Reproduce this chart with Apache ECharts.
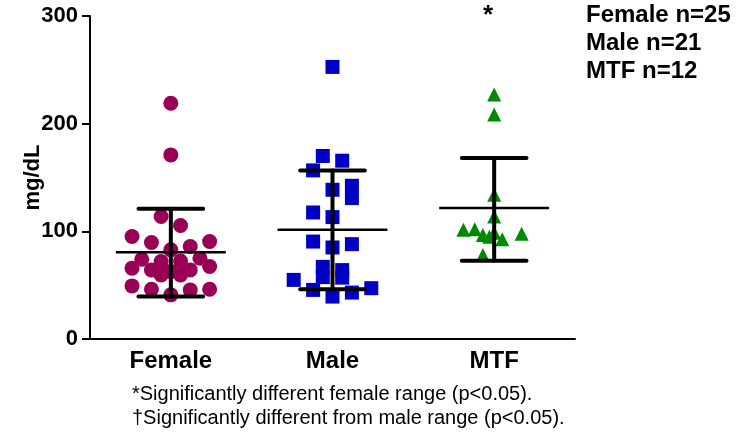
<!DOCTYPE html>
<html>
<head>
<meta charset="utf-8">
<script src="https://cdn.jsdelivr.net/npm/echarts@6/dist/echarts.min.js"></script>
<style>
  html, body { margin: 0; background: #fff; }
  #chart { width: 750px; height: 435px; }
</style>
</head>
<body>
<div id="chart"></div>
<script>
// groups on the x axis
const groups = ["Female", "Male", "MTF"];
const yTicks = [0, 100, 200, 300];

// individual values (mg/dL) and horizontal jitter inside each group
const femaleValues = [219, 171, 113.8, 105.4, 95.2, 89.6, 85.9, 90.5, 82.8, 74.1, 71.9, 72.5, 75,
  65.8, 64.2, 62.6, 64.2, 67.3, 59.5, 59.5, 49.3, 46.2, 41, 45.6, 46.2];
const femaleJitter = [0, 0, -0.06, 0.06, -0.24, -0.12, 0.12, 0.24, 0, -0.18, -0.06, 0.06, 0.18,
  -0.24, -0.12, 0, 0.12, 0.24, -0.06, 0.06, -0.24, -0.12, 0, 0.12, 0.24];

const maleValues = [252.7, 170, 165.6, 156.6, 138.6, 142.3, 130.9, 117.5, 113.2, 90.5, 85, 88.1,
  67, 57.5, 64, 57, 54.9, 45.6, 39.4, 43.1, 47.2];
const maleJitter = [0, -0.06, 0.06, -0.12, 0, 0.12, 0.12, -0.12, 0, -0.12, 0, 0.12,
  -0.06, -0.06, 0.06, 0.06, -0.24, -0.12, 0, 0.12, 0.24];

const mtfValues = [227, 208.4, 134, 113.8, 101.4, 102, 96.7, 95, 98.6, 92.7, 97.7, 78.1];
const mtfJitter = [0, 0, 0, 0, -0.19, -0.12, -0.07, -0.03, 0, 0.05, 0.17, -0.07];

// mean line and error bar ends
const groupMean = [80.6, 101.4, 121.6];
const groupLower = [39.4, 46.2, 72.6];
const groupUpper = [121, 156.6, 168];

const countLabels = ["Female n=25", "Male n=21", "MTF n=12"];
const footnotes = [
  "*Significantly different female range (p<0.05).",
  "\u2020Significantly different from male range (p<0.05)."
];

const FONT = "Liberation Sans, Arial, sans-serif";

function points(values, jitter, idx) {
  return values.map((v, i) => [idx + jitter[i], v]);
}

const chart = echarts.init(document.getElementById("chart"));

const option = {
  backgroundColor: "#fff",
  animation: false,
  grid: { left: 90, top: 16, width: 485, height: 323 },
  xAxis: [
    {
      type: "category",
      data: groups,
      boundaryGap: true,
      axisLine: { lineStyle: { color: "#000", width: 2 } },
      axisTick: { show: false },
      axisLabel: { color: "#000", fontFamily: FONT, fontWeight: "bold", fontSize: 24, margin: 10 },
      splitLine: { show: false },
    },
    {
      type: "value",
      min: -0.5,
      max: 2.5,
      show: false,
    },
  ],
  yAxis: {
    type: "value",
    min: yTicks[0],
    max: yTicks[yTicks.length - 1],
    interval: 100,
    name: "mg/dL",
    nameLocation: "middle",
    nameGap: 46,
    nameRotate: 90,
    nameMoveOverlap: false,
    nameTextStyle: { color: "#000", fontFamily: FONT, fontWeight: "bold", fontSize: 22 },
    axisLine: { show: true, onZero: false, lineStyle: { color: "#000", width: 2 } },
    axisTick: { show: true, inside: false, length: 8, lineStyle: { color: "#000", width: 2 } },
    axisLabel: { color: "#000", fontFamily: FONT, fontWeight: "bold", fontSize: 22, margin: 12 },
    splitLine: { show: false },
  },
  series: [
    {
      name: "Female",
      type: "scatter",
      xAxisIndex: 1,
      symbol: "circle",
      symbolSize: 15,
      itemStyle: { color: "#990055", opacity: 1 },
      data: points(femaleValues, femaleJitter, 0),
    },
    {
      name: "Male",
      type: "scatter",
      xAxisIndex: 1,
      symbol: "rect",
      symbolSize: 14,
      itemStyle: { color: "#0000c4", opacity: 1 },
      data: points(maleValues, maleJitter, 1),
    },
    {
      name: "MTF",
      type: "scatter",
      xAxisIndex: 1,
      symbol: "triangle",
      symbolSize: 14,
      itemStyle: { color: "#008a00", opacity: 1 },
      data: points(mtfValues, mtfJitter, 2),
    },
    {
      name: "bars",
      type: "custom",
      xAxisIndex: 1,
      z: 10,
      data: groups.map((g, i) => [i, groupMean[i], groupLower[i], groupUpper[i]]),
      renderItem(params, api) {
        const i = api.value(0);
        const m0 = api.coord([i - 0.34, api.value(1)]);
        const m1 = api.coord([i + 0.34, api.value(1)]);
        const lo = api.coord([i, api.value(2)]);
        const hi = api.coord([i, api.value(3)]);
        const cl0 = api.coord([i - 0.2, api.value(2)]);
        const cl1 = api.coord([i + 0.2, api.value(2)]);
        const cu0 = api.coord([i - 0.2, api.value(3)]);
        const cu1 = api.coord([i + 0.2, api.value(3)]);
        const thick = { stroke: "#000", lineWidth: 4, lineCap: "round" };
        return {
          type: "group",
          children: [
            { type: "line", shape: { x1: m0[0], y1: m0[1], x2: m1[0], y2: m1[1] }, style: { stroke: "#000", lineWidth: 2.5 } },
            { type: "line", shape: { x1: lo[0], y1: lo[1], x2: hi[0], y2: hi[1] }, style: thick },
            { type: "line", shape: { x1: cl0[0], y1: cl0[1], x2: cl1[0], y2: cl1[1] }, style: thick },
            { type: "line", shape: { x1: cu0[0], y1: cu0[1], x2: cu1[0], y2: cu1[1] }, style: thick },
          ],
        };
      },
    },
  ],
  graphic: [
    {
      type: "text",
      left: 483,
      top: 3,
      style: { text: "*", fill: "#000", font: "bold 26px " + FONT },
    },
    ...countLabels.map((t, i) => ({
      type: "text",
      left: 586,
      top: 3 + i * 28,
      style: { text: t, fill: "#000", font: "bold 24px " + FONT },
    })),
    ...footnotes.map((t, i) => ({
      type: "text",
      left: 132,
      top: 384 + i * 24,
      style: { text: t, fill: "#000", font: "20px " + FONT },
    })),
  ],
};

chart.setOption(option);
</script>
</body>
</html>
